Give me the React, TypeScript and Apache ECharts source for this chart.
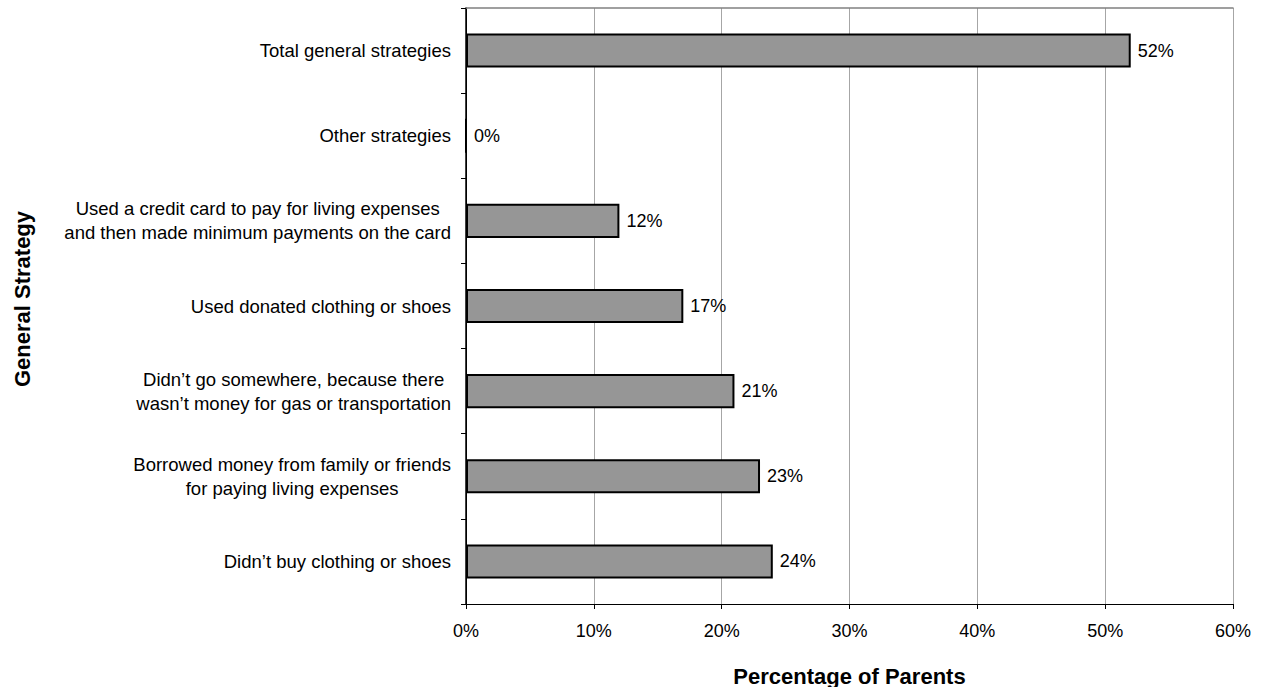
import React, { useEffect, useRef } from "react";
import * as echarts from "echarts";

const categories = [
  "Didn’t buy clothing or shoes",
  "Borrowed money from family or friends\nfor paying living expenses",
  "Didn’t go somewhere, because there\nwasn’t money for gas or transportation",
  "Used donated clothing or shoes",
  "Used a credit card to pay for living expenses\nand then made minimum payments on the card",
  "Other strategies",
  "Total general strategies",
];
const values = [24, 23, 21, 17, 12, 0, 52];
const xTicks = [0, 10, 20, 30, 40, 50, 60];
const xTitle = "Percentage of Parents";
const yTitle = "General Strategy";

const FONT = "Liberation Sans, Arial, sans-serif";

export default function App() {
  const ref = useRef<HTMLDivElement>(null);
  useEffect(() => {
    if (!ref.current) return;
    const chart = echarts.init(ref.current, null, { renderer: "svg" });
    const left = 466;
    const right = 28;
    const top = 8;
    const bottom = 83;
    chart.setOption({
      animation: false,
      backgroundColor: "#ffffff",
      textStyle: { fontFamily: FONT },
      grid: { left, right, top, bottom, containLabel: false },
      xAxis: [
        {
          type: "value",
          min: xTicks[0],
          max: xTicks[xTicks.length - 1],
          interval: 10,
          position: "bottom",
          axisLine: { show: true, lineStyle: { color: "#000", width: 1 } },
          axisTick: { show: true, inside: false, length: 5, lineStyle: { color: "#000" } },
          axisLabel: {
            formatter: "{value}%",
            fontSize: 18,
            color: "#000",
            fontFamily: FONT,
            margin: 18,
          },
          splitLine: { show: true, lineStyle: { color: "#a6a6a6", width: 1 } },
        },
        {
          type: "value",
          min: xTicks[0],
          max: xTicks[xTicks.length - 1],
          interval: 10,
          position: "top",
          axisLine: { show: true, lineStyle: { color: "#808080", width: 1.5 } },
          axisTick: { show: false },
          axisLabel: { show: false },
          splitLine: { show: false },
        },
      ],
      yAxis: [
        {
          type: "category",
          data: categories,
          position: "left",
          axisLine: { show: true, lineStyle: { color: "#000", width: 1 } },
          axisTick: { show: true, inside: false, length: 5, lineStyle: { color: "#000" } },
          axisLabel: {
            fontSize: 18.5,
            color: "#000",
            fontFamily: FONT,
            margin: 15,
            lineHeight: 24,
            align: "right",
            formatter: (v: string) =>
              v
                .split("\n")
                .map((l) => `{c|${l}}`)
                .join("\n"),
            rich: {
              c: {
                align: "center",
                fontSize: 18.5,
                lineHeight: 24,
                fontFamily: FONT,
                color: "#000",
              },
            },
          },
          splitLine: { show: false },
        },
        {
          type: "category",
          data: categories,
          position: "right",
          axisLine: { show: true, lineStyle: { color: "#000", width: 1.5 } },
          axisTick: { show: false },
          axisLabel: { show: false },
          splitLine: { show: false },
        },
      ],
      graphic: [
        {
          type: "text",
          x: left + (1261 - left - right) / 2,
          y: 676,
          style: {
            text: xTitle,
            align: "center",
            verticalAlign: "middle",
            font: `bold 22px ${FONT}`,
            fill: "#000",
          },
        },
        {
          type: "text",
          x: 22,
          y: 299,
          rotation: Math.PI / 2,
          style: {
            text: yTitle,
            align: "center",
            verticalAlign: "middle",
            font: `bold 22px ${FONT}`,
            fill: "#000",
          },
        },
      ],
      series: [
        {
          type: "bar",
          data: values,
          xAxisIndex: 0,
          yAxisIndex: 0,
          barWidth: "40%",
          itemStyle: { color: "#969696", borderColor: "#000", borderWidth: 2 },
          label: {
            show: true,
            position: "right",
            distance: 7,
            formatter: "{c}%",
            fontSize: 18,
            color: "#000",
            fontFamily: FONT,
          },
        },
      ],
    });
    return () => chart.dispose();
  }, []);
  return (
    <div
      ref={ref}
      style={{ position: "fixed", left: 0, top: 0, width: 1261, height: 687, background: "#fff" }}
    />
  );
}
